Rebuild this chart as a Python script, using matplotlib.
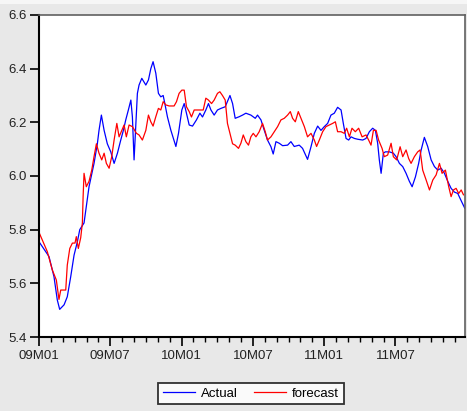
import numpy as np
import matplotlib
matplotlib.use("Agg")
import matplotlib.pyplot as plt
from matplotlib.patches import Rectangle
from matplotlib.ticker import FixedLocator, MultipleLocator

# months counted from 2009M01
actual_t = [0.0, 0.84, 1.26, 1.54, 1.74, 2.11, 2.38, 2.67, 2.95, 3.23, 3.43, 3.79, 3.98,
            4.21, 4.63, 4.91, 5.05, 5.25, 5.48, 5.75, 6.04, 6.32, 6.60, 6.88, 7.10, 7.30,
            7.52, 7.73, 7.86, 7.95, 8.00, 8.15, 8.28, 8.42, 8.65, 8.99, 9.21, 9.41, 9.60,
            9.83, 10.05, 10.25, 10.45, 10.59, 10.81, 11.10, 11.52, 11.74, 12.02, 12.22,
            12.41, 12.64, 12.92, 13.25, 13.54, 13.76, 14.04, 14.26, 14.47, 14.74, 15.02,
            15.31, 15.67, 16.07, 16.29, 16.51, 16.85, 17.13, 17.41, 17.83, 18.20, 18.39,
            18.68, 18.96, 19.23, 19.52, 19.71, 19.94, 20.22, 20.50, 20.92, 21.20, 21.48,
            21.90, 22.18, 22.60, 22.89, 23.17, 23.45, 23.73, 24.01, 24.29, 24.57, 24.85,
            25.13, 25.42, 25.61, 25.84, 26.06, 26.26, 26.54, 26.82, 27.24, 27.52, 27.80,
            28.08, 28.31, 28.50, 28.64, 28.79, 28.98, 29.15, 29.49, 29.82, 30.05, 30.33,
            30.61, 30.89, 31.17, 31.40, 31.68, 31.95, 32.16, 32.43, 32.71, 33.00, 33.28,
            33.56, 33.84, 34.12, 34.40, 34.68, 34.96, 35.24, 35.44, 35.83]
actual = [5.755, 5.700, 5.625, 5.538, 5.503, 5.520, 5.550, 5.625, 5.705, 5.755, 5.800, 5.825,
          5.886, 5.960, 6.047, 6.120, 6.170, 6.227, 6.170, 6.120, 6.090, 6.047, 6.085, 6.134,
          6.170, 6.209, 6.246, 6.283, 6.220, 6.120, 6.060, 6.196, 6.308, 6.339, 6.364, 6.339,
          6.358, 6.400, 6.426, 6.383, 6.308, 6.295, 6.300, 6.270, 6.220, 6.170, 6.110, 6.159,
          6.246, 6.270, 6.234, 6.190, 6.186, 6.209, 6.234, 6.220, 6.246, 6.270, 6.246, 6.227,
          6.246, 6.252, 6.258, 6.300, 6.270, 6.215, 6.221, 6.227, 6.234, 6.227, 6.215, 6.227,
          6.209, 6.170, 6.134, 6.109, 6.082, 6.128, 6.122, 6.113, 6.115, 6.128, 6.110, 6.115,
          6.103, 6.062, 6.109, 6.159, 6.186, 6.170, 6.184, 6.196, 6.227, 6.234, 6.256, 6.246,
          6.196, 6.140, 6.134, 6.146, 6.140, 6.137, 6.134, 6.140, 6.165, 6.178, 6.170, 6.122,
          6.060, 6.010, 6.085, 6.090, 6.090, 6.085, 6.072, 6.047, 6.035, 6.010, 5.980, 5.960,
          5.997, 6.047, 6.097, 6.144, 6.110, 6.060, 6.035, 6.022, 6.029, 6.010, 5.980, 5.954,
          5.940, 5.935, 5.916, 5.880]

forecast_t = [0.0, 0.70, 1.12, 1.46, 1.68, 1.83, 2.02, 2.25, 2.38, 2.59, 2.81, 3.03, 3.14,
              3.31, 3.51, 3.65, 3.71, 3.79, 3.98, 4.21, 4.44, 4.63, 4.83, 5.05, 5.28, 5.48,
              5.67, 5.90, 6.12, 6.32, 6.55, 6.74, 6.97, 7.16, 7.35, 7.58, 7.86, 8.20, 8.42,
              8.70, 8.99, 9.21, 9.41, 9.60, 9.83, 10.05, 10.25, 10.45, 10.67, 10.95, 11.37,
              11.57, 11.79, 12.02, 12.22, 12.41, 12.64, 12.83, 13.06, 13.48, 13.82, 14.04,
              14.26, 14.52, 14.74, 15.02, 15.22, 15.44, 15.67, 15.86, 16.07, 16.29, 16.51,
              16.79, 16.99, 17.19, 17.41, 17.63, 17.83, 18.03, 18.26, 18.53, 18.81, 19.04,
              19.23, 19.52, 19.80, 20.08, 20.36, 20.64, 20.92, 21.15, 21.34, 21.57, 21.82,
              22.05, 22.33, 22.60, 22.89, 23.17, 23.36, 23.59, 23.87, 24.15, 24.43, 24.71,
              24.94, 25.13, 25.42, 25.69, 25.89, 26.12, 26.34, 26.62, 26.90, 27.19, 27.52,
              27.74, 27.94, 28.14, 28.37, 28.58, 28.87, 29.06, 29.34, 29.63, 29.82, 30.10,
              30.39, 30.61, 30.89, 31.11, 31.31, 31.59, 31.87, 32.07, 32.29, 32.58, 32.86,
              33.14, 33.42, 33.70, 33.92, 34.20, 34.48, 34.68, 34.88, 35.10, 35.32, 35.53,
              35.72]
forecast = [5.790, 5.718, 5.650, 5.612, 5.540, 5.575, 5.575, 5.575, 5.668, 5.730, 5.750,
            5.750, 5.774, 5.730, 5.770, 5.825, 5.920, 6.010, 5.960, 5.980, 6.022, 6.072,
            6.120, 6.085, 6.060, 6.085, 6.047, 6.029, 6.072, 6.134, 6.196, 6.146, 6.170,
            6.190, 6.146, 6.190, 6.184, 6.159, 6.153, 6.134, 6.170, 6.227, 6.202, 6.186,
            6.221, 6.252, 6.246, 6.277, 6.265, 6.261, 6.261, 6.277, 6.308, 6.320, 6.320,
            6.258, 6.240, 6.220, 6.246, 6.246, 6.246, 6.290, 6.283, 6.270, 6.283, 6.308,
            6.314, 6.300, 6.283, 6.196, 6.159, 6.120, 6.115, 6.103, 6.122, 6.153, 6.128,
            6.115, 6.146, 6.159, 6.146, 6.165, 6.196, 6.165, 6.134, 6.146, 6.165, 6.184,
            6.209, 6.215, 6.227, 6.240, 6.215, 6.202, 6.240, 6.215, 6.184, 6.146, 6.159,
            6.134, 6.110, 6.134, 6.165, 6.184, 6.190, 6.196, 6.202, 6.165, 6.165, 6.159,
            6.178, 6.146, 6.178, 6.165, 6.178, 6.146, 6.153, 6.134, 6.115, 6.170, 6.170,
            6.134, 6.103, 6.072, 6.078, 6.122, 6.072, 6.060, 6.109, 6.072, 6.097, 6.065,
            6.047, 6.072, 6.090, 6.097, 6.022, 5.985, 5.948, 5.985, 6.004, 6.047, 6.010,
            6.022, 5.960, 5.923, 5.948, 5.954, 5.935, 5.948, 5.930]

tick_months = [0, 6, 12, 18, 24, 30]
tick_labels = ["09M01", "09M07", "10M01", "10M07", "11M01", "11M07"]
y_ticks = [5.4, 5.6, 5.8, 6.0, 6.2, 6.4, 6.6]

plt.rcParams["font.family"] = ["Liberation Sans", "DejaVu Sans"]

fig = plt.figure(figsize=(4.67, 4.11), dpi=100, facecolor="#e8e8e8")
# light strip along the very top of the window
fig.patches.append(Rectangle((0, 1 - 4 / 411), 1, 4 / 411, transform=fig.transFigure,
                             facecolor="#f6f6f6", edgecolor="none", zorder=0))
ax = fig.add_axes([39 / 467, 1 - 337 / 411, 426 / 467, 322 / 411])
ax.set_facecolor("white")

ax.plot(actual_t, actual, color="#0000ff", lw=0.9, label="Actual")
ax.plot(forecast_t, forecast, color="#ff0000", lw=0.9, label="forecast")

ax.set_xlim(0, 35.85)
ax.set_ylim(5.4, 6.6)
ax.xaxis.set_major_locator(FixedLocator(tick_months))
ax.set_xticklabels(tick_labels)
ax.xaxis.set_minor_locator(MultipleLocator(1))
ax.set_yticks(y_ticks)
ax.set_yticklabels([f"{v:.1f}" for v in y_ticks])

ax.tick_params(axis="both", which="major", direction="out", length=6.5, width=1.2,
               labelsize=9.5, labelcolor="#222222", color="black")
ax.tick_params(axis="x", which="minor", direction="out", length=3.5, width=1.0, color="black")
ax.tick_params(axis="x", pad=3)
ax.tick_params(axis="y", pad=2)

for side in ["left", "bottom"]:
    ax.spines[side].set_color("black")
    ax.spines[side].set_linewidth(1.5)
for side in ["top", "right"]:
    ax.spines[side].set_color("#606060")
    ax.spines[side].set_linewidth(1.2)

leg = fig.legend(loc="center", bbox_to_anchor=(251 / 467, 1 - 393.5 / 411), ncol=2,
                 fontsize=9.5, frameon=True, fancybox=False, handlelength=2.4,
                 columnspacing=1.2, borderpad=0.35, handletextpad=0.5)
leg.get_frame().set_edgecolor("black")
leg.get_frame().set_linewidth(1.3)
leg.get_frame().set_facecolor("white")

fig.savefig("out.png", dpi=100, facecolor=fig.get_facecolor())
